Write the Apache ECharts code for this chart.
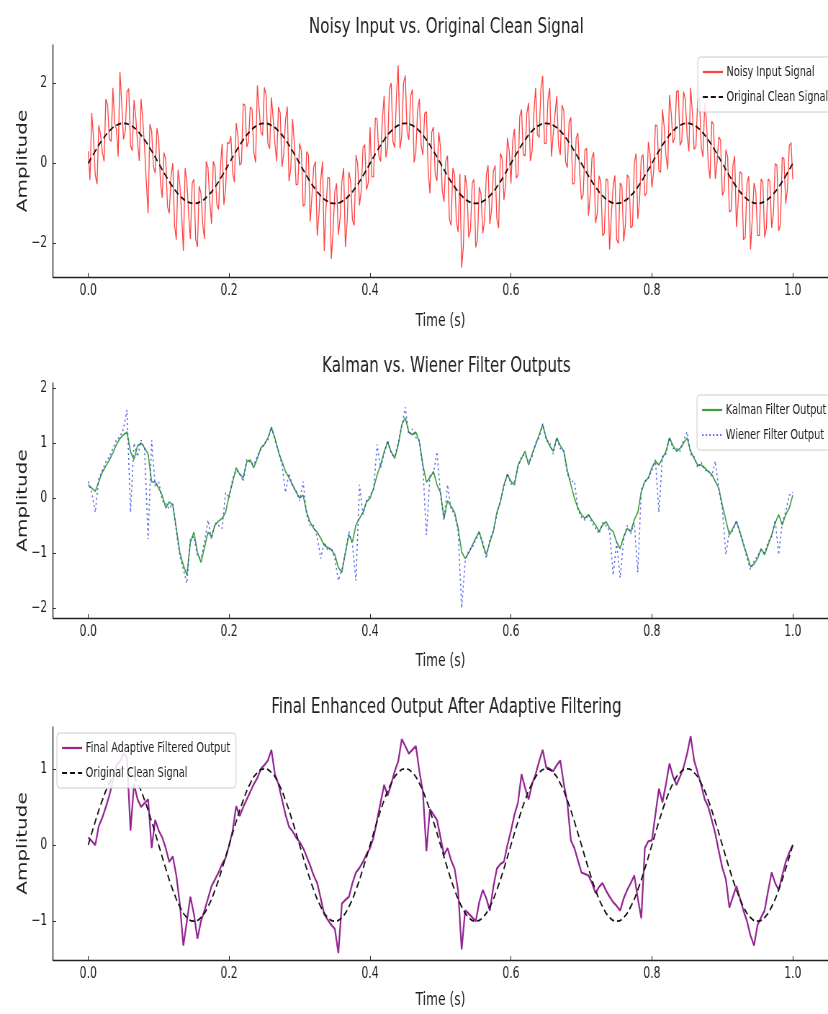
<!DOCTYPE html>
<html>
<head>
<meta charset="utf-8">
<title>Signal filtering</title>
<script src="https://cdn.jsdelivr.net/npm/echarts@6.0.0/dist/echarts.min.js"></script>
<style>
  html, body { margin: 0; padding: 0; overflow: hidden; background: #fff; }
  /* the reference is squeezed sideways, so draw wide and squeeze */
  #chart { width: 1150px; height: 1014px; transform: scaleX(0.72); transform-origin: 0 0; }
</style>
</head>
<body>
<div id="chart"></div>
<script>
const noisyStep = 0.0025
const sampleStep = 0.005
const cleanStep = 0.01
const timeTicks = [0, 0.2, 0.4, 0.6, 0.8, 1.0]
const noisyTicks = [-2, 0, 2]
const filterTicks = [-2, -1, 0, 1, 2]
const finalTicks = [-1, 0, 1]

const cleanSignal = [
  0, 0.309, 0.588, 0.809, 0.951, 1, 0.951, 0.809, 0.588, 0.309,
  0, -0.309, -0.588, -0.809, -0.951, -1, -0.951, -0.809, -0.588, -0.309,
  0, 0.309, 0.588, 0.809, 0.951, 1, 0.951, 0.809, 0.588, 0.309,
  0, -0.309, -0.588, -0.809, -0.951, -1, -0.951, -0.809, -0.588, -0.309,
  0, 0.309, 0.588, 0.809, 0.951, 1, 0.951, 0.809, 0.588, 0.309,
  0, -0.309, -0.588, -0.809, -0.951, -1, -0.951, -0.809, -0.588, -0.309,
  0, 0.309, 0.588, 0.809, 0.951, 1, 0.951, 0.809, 0.588, 0.309,
  0, -0.309, -0.588, -0.809, -0.951, -1, -0.951, -0.809, -0.588, -0.309,
  0, 0.309, 0.588, 0.809, 0.951, 1, 0.951, 0.809, 0.588, 0.309,
  0, -0.309, -0.588, -0.809, -0.951, -1, -0.951, -0.809, -0.588, -0.309,
  0
]

const noisySignal = [
  0.3, -0.42, 1.26, 0.63, -0.29, -0.52, 0.95, 0.72, 0.29, 0.05, 1.61, 1.46, 0.61, 0.55, 1.89, 1.02, 0.85, 0.17, 2.29, 1.5,
  0.6, 0.8, 1.79, 1.87, 0.45, 0.32, 1.59, 1.15, 0.51, 0.06, 1.61, 1.05, 0.39, -0.48, -1.25, 0.98, 0.81, -0.07, -0.24, 0.88,
  0.6, -0.48, -0.86, 0.27, 0.09, -1.08, -1.25, -0.32, 0.01, -1.55, -1.91, -0.16, -0.51, -1.25, -2.19, -0.12, -0.45, -1.27, -1.89, -0.5,
  -0.4, -1.9, -2.09, -0.57, -0.75, -1.52, -1.89, 0.05, -0.11, -0.96, -1.51, 0.05, -0.09, -1.02, -1.15, -0.08, 0.49, -1.03, -0.66, 0.52,
  0.5, 0.68, -0.24, -0.47, 1.01, 0.68, -0.05, 0.02, 1.49, 1.45, 0.41, 0.56, 1.41, 1.35, 0.29, 0.02, 1.95, 1.37, 0.79, 0.7,
  1.9, 1.7, 0.49, 0.37, 1.65, 1.12, 0.49, 0.05, 1.41, 1.26, -0.09, 0.25, 1.09, 1.42, -0.45, -0.12, 1.11, 0.53, -0.54, -0.52,
  0.5, 0.32, -1.06, -1.03, 0.29, 0.22, -1.45, -0.82, -0.09, 0.05, -1.81, -1.26, -0.41, 0.05, -2.19, -1.12, -0.35, -0.37, -2.39, -1.7,
  -0.7, -0.5, -1.79, -1.37, -0.45, -0.12, -2.09, -1.45, -0.21, -0.46, -1.41, -1.55, 0.21, -0.02, -1.05, -0.68, 0.39, 0.47, -0.66, -0.48,
  0.9, -0.32, -0.34, 1.13, 1.11, 0.18, 0.05, 1.12, 1.69, 0.15, 0.41, 1.86, 2.01, 0.55, 0.39, 1.72, 2.45, 0.37, 0.69, 2.0,
  2.2, 0.8, 0.59, 1.67, 1.85, 0.02, 0.29, 1.35, 1.61, 0.46, 0.21, 1.25, 1.29, -0.18, -0.75, 0.78, 0.91, -0.27, -0.44, 0.78,
  0.4, -0.68, -0.96, 0.07, 0.19, -1.38, -1.55, -0.12, -0.29, -1.45, -1.71, -0.26, -2.61, -2.05, -0.29, -0.62, -1.85, -1.67, -0.49, -0.4,
  -2.1, -1.9, -0.59, -0.77, -1.75, -1.42, -0.29, -0.05, -1.51, -1.16, -0.21, -0.05, -1.39, -1.62, 0.25, 0.12, -0.91, -0.53, 0.64, 0.32,
  -0.5, 0.58, 0.86, -0.37, -0.29, 1.18, 1.35, 0.22, 0.19, 1.25, 1.51, 0.06, 0.31, 1.25, 1.89, 0.72, 0.65, 1.87, 2.19, 0.5,
  0.5, 1.6, 1.89, 0.17, 0.75, 1.22, 1.69, 0.45, 0.21, 1.46, 1.31, 0.05, -0.11, 1.02, 1.15, -0.52, -0.49, 0.63, 0.76, -0.22,
  -0.9, -0.78, 0.34, 0.37, -1.31, -0.78, 0.15, 0.28, -1.49, -1.25, -0.31, -0.46, -1.81, -1.75, -0.39, -0.42, -2.15, -1.27, -0.59, -0.3,
  -1.9, -2.0, -0.49, -0.57, -1.95, -1.52, -0.29, -0.35, -1.61, -1.56, -0.01, 0.25, -1.39, -0.92, 0.15, 0.22, -0.81, -0.73, 0.54, 0.22,
  -0.6, -0.22, 0.96, 0.93, -0.19, -0.22, 1.35, 0.92, 0.19, -0.15, 1.71, 1.26, 0.51, 0.65, 1.79, 1.82, 0.45, 0.57, 1.79, 1.6,
  0.7, 0.3, 1.89, 1.27, 0.35, 0.42, 1.59, 1.65, 0.41, 0.16, 1.51, 1.05, -0.01, -0.38, 1.05, 0.98, -0.39, 0.03, 0.66, 0.58,
  -0.8, -0.68, 0.34, 0.17, -1.21, -1.18, -0.05, 0.18, -1.59, -0.95, -0.21, -0.26, -1.91, -1.85, -0.49, -0.32, -2.15, -1.37, -0.49, -0.7,
  -1.8, -1.8, -0.39, -0.47, -1.85, -1.62, -0.39, -0.45, -1.61, -1.26, -0.01, -0.05, -1.69, -1.52, 0.15, 0.12, -1.01, -0.63, 0.44, 0.52,
  -0.4
]

const kalmanOutput = [
  0.24, 0.18, 0.12, 0.3, 0.47, 0.58, 0.69, 0.82, 0.97, 1.08,
  1.15, 1.2, 0.84, 0.7, 0.95, 1.0, 0.91, 0.8, 0.29, 0.29,
  0.18, 0.05, -0.18, -0.07, -0.13, -0.55, -0.99, -1.22, -1.4, -0.8,
  -0.62, -0.99, -1.17, -0.9, -0.62, -0.7, -0.49, -0.42, -0.37, -0.26,
  0.05, 0.29, 0.55, 0.43, 0.37, 0.66, 0.69, 0.55, 0.72, 0.91,
  0.97, 1.09, 1.28, 1.09, 0.84, 0.66, 0.48, 0.37, 0.24, 0.11,
  0, 0.05, -0.26, -0.44, -0.55, -0.62, -0.73, -0.86, -0.9, -0.94,
  -1.03, -1.26, -1.35, -0.99, -0.67, -0.8, -0.49, -0.37, -0.26, -0.07,
  0, 0.18, 0.42, 0.6, 0.84, 1.02, 0.84, 0.72, 0.97, 1.33,
  1.46, 1.2, 1.15, 1.2, 1.02, 0.6, 0.29, 0.37, 0.48, 0.24,
  0.1, -0.37, -0.05, -0.15, -0.26, -0.55, -0.98, -1.1, -1.0, -0.86,
  -0.73, -0.61, -0.85, -1.03, -0.8, -0.61, -0.26, -0.07, 0.24, 0.43,
  0.3, 0.24, 0.6, 0.72, 0.85, 0.6, 0.8, 0.97, 1.15, 1.33,
  1.09, 0.95, 0.85, 1.09, 0.95, 0.85, 0.5, 0.24, 0, -0.18,
  -0.3, -0.37, -0.3, -0.4, -0.49, -0.61, -0.49, -0.43, -0.55, -0.61,
  -0.8, -0.92, -0.7, -0.55, -0.61, -0.4, -0.26, 0.11, 0.3, 0.37,
  0.55, 0.67, 0.6, 0.72, 0.85, 1.09, 0.95, 0.85, 0.9, 1.0,
  1.09, 0.85, 0.72, 0.6, 0.6, 0.55, 0.48, 0.43, 0.3, 0.18,
  -0.13, -0.4, -0.67, -0.55, -0.43, -0.61, -0.85, -1.03, -1.25, -1.2,
  -1.1, -0.92, -1.03, -0.85, -0.67, -0.45, -0.3, -0.49, -0.3, -0.18,
  0.05
]

const wienerOutput = [
  0.3, 0.1, -0.26, 0.35, 0.5, 0.66, 0.75, 0.9, 1.05, 1.12,
  1.25, 1.6, -0.26, 1.0, 0.75, 1.05, 0.9, -0.75, 1.05, 0.2,
  0.3, -0.05, -0.1, -0.2, -0.1, -0.6, -1.05, -1.3, -1.55, -0.75,
  -0.7, -1.05, -1.1, -0.8, -0.4, -0.75, -0.45, -0.5, -0.55, 0.1,
  0, 0.35, 0.5, 0.45, 0.3, 0.7, 0.65, 0.6, 0.75, 0.88,
  1.0, 1.05, 1.3, 1.05, 0.85, 0.6, 0.1, 0.45, 0.2, 0.15,
  -0.05, 0.3, -0.3, -0.5, -0.5, -0.7, -1.1, -0.8, -0.95, -0.9,
  -1.1, -1.5, -1.3, -1.0, -0.6, -0.85, -1.5, 0.24, -0.3, -0.05,
  0.05, 0.15, 0.97, 0.55, 0.8, 1.05, 0.8, 0.75, 1.0, 1.3,
  1.65, 1.15, 1.25, 1.1, 1.05, 0.55, -0.67, 0.4, 0.45, 0.84,
  0.05, -0.4, 0.24, -0.2, -0.3, -0.6, -2.0, -1.15, -0.95, -0.9,
  -0.75, -0.65, -0.8, -1.1, -0.75, -0.6, -0.3, -0.05, 0.2, 0.45,
  0.25, 0.3, 0.55, 0.75, 0.8, 0.65, 0.75, 1.0, 1.1, 1.35,
  1.05, 1.0, 0.8, 1.1, 0.9, 0.85, 0.45, 0.3, 0.3, -0.2,
  -0.35, -0.4, -0.3, -0.45, -0.55, -0.65, -0.45, -0.5, -0.6, -1.4,
  -0.8, -1.45, -0.75, -0.5, -0.65, -0.45, -1.35, 0.15, 0.3, 0.35,
  0.5, 0.7, -0.26, 0.75, 0.8, 1.1, 0.9, 0.9, 0.85, 1.05,
  1.2, 0.8, 0.75, 0.55, 0.65, 0.5, 0.5, 0.4, 0.67, 0.15,
  -0.2, -1.03, -0.6, -0.6, -0.4, -0.65, -0.8, -1.1, -1.3, -1.15,
  -1.05, -0.95, -1.0, -0.8, -0.7, -0.4, -1.03, -0.45, -0.25, 0.05,
  0.1
]

const adaptiveOutput = [
  0.1, 0.05, 0, 0.25, 0.36, 0.5, 0.65, 0.85, 1.05, 1.1,
  1.2, 1.15, 0.19, 0.8, 0.6, 0.5, 0.55, 0.6, -0.04, 0.33,
  0.19, 0.1, -0.04, -0.22, -0.15, -0.4, -0.77, -1.32, -1.0, -0.68,
  -0.91, -1.23, -1.0, -0.86, -0.7, -0.54, -0.45, -0.36, -0.25, -0.17,
  0, 0.19, 0.51, 0.38, 0.5, 0.6, 0.7, 0.8, 0.88, 1.0,
  1.05, 1.11, 1.25, 0.93, 0.8, 0.6, 0.4, 0.24, 0.18, 0.1,
  0.04, -0.04, -0.15, -0.27, -0.4, -0.5, -0.7, -0.91, -0.98, -1.05,
  -1.1, -1.42, -0.77, -0.72, -0.68, -0.5, -0.36, -0.3, -0.22, -0.12,
  -0.04, 0.1, 0.33, 0.56, 0.79, 0.65, 0.8, 0.97, 1.1, 1.39,
  1.3, 1.2, 1.25, 1.3, 0.97, 0.7, -0.08, 0.47, 0.4, 0.33,
  0.1, -0.13, -0.04, -0.2, -0.31, -0.6, -1.37, -0.86, -0.9, -0.95,
  -1.0, -0.75, -0.59, -0.7, -0.86, -0.55, -0.31, -0.25, -0.22, 0,
  0.19, 0.4, 0.56, 0.93, 0.75, 0.6, 0.8, 0.93, 1.1, 1.25,
  1.02, 1.0, 0.97, 1.05, 1.11, 0.8, 0.56, 0.06, -0.04, -0.2,
  -0.36, -0.38, -0.4, -0.5, -0.63, -0.55, -0.5, -0.6, -0.68, -0.75,
  -0.8, -0.86, -0.7, -0.59, -0.5, -0.4, -0.7, -0.96, -0.04, 0.05,
  0.06, 0.4, 0.74, 0.56, 0.8, 1.07, 0.9, 0.79, 0.9, 1.02,
  1.2, 1.43, 1.11, 0.95, 0.79, 0.6, 0.5, 0.33, 0.15, -0.08,
  -0.3, -0.45, -0.82, -0.68, -0.54, -0.7, -0.86, -1.0, -1.19, -1.32,
  -1.05, -0.95, -0.86, -0.6, -0.36, -0.5, -0.59, -0.4, -0.22, -0.1,
  0
]

const font = "'DejaVu Sans', sans-serif"
const ink = '#222'

function toPairs (values, step) {
  return values.map((v, i) => [+(i * step).toFixed(4), v])
}

function minusSign (v) {
  return v < 0 ? '\u2212' + Math.abs(v) : String(v)
}

function xAxisFor (gridIndex, nameGap) {
  return {
    type: 'value',
    gridIndex: gridIndex,
    min: -0.05,
    max: 1.05,
    name: 'Time (s)',
    nameLocation: 'middle',
    nameGap: nameGap,
    nameTextStyle: { fontFamily: font, fontSize: 17, color: ink },
    axisLine: { show: true, onZero: false, lineStyle: { color: ink, width: 1.4 } },
    axisTick: { show: true, inside: true, length: 4, customValues: timeTicks, lineStyle: { color: ink } },
    axisLabel: { customValues: timeTicks, formatter: v => v.toFixed(1), fontFamily: font, fontSize: 15, color: ink, margin: 7 },
    splitLine: { show: false }
  }
}

function yAxisFor (gridIndex, min, max, ticks) {
  return {
    type: 'value',
    gridIndex: gridIndex,
    min: min,
    max: max,
    name: 'Amplitude',
    nameLocation: 'middle',
    nameGap: 32,
    nameMoveOverlap: false,
    nameRotate: 90,
    nameTextStyle: { fontFamily: font, fontSize: 20, color: ink },
    axisLine: { show: true, onZero: false, lineStyle: { color: ink, width: 1.4 } },
    axisTick: { show: true, inside: true, length: 4, customValues: ticks, lineStyle: { color: ink } },
    axisLabel: { customValues: ticks, formatter: minusSign, fontFamily: font, fontSize: 15, color: ink, margin: 8 },
    splitLine: { show: false }
  }
}

function legendAt (left, top, names) {
  return {
    left: left,
    top: top,
    orient: 'vertical',
    data: names,
    itemWidth: 28,
    itemHeight: 14,
    itemGap: 11,
    padding: [8, 8, 8, 6],
    backgroundColor: 'rgba(255,255,255,0.85)',
    borderColor: '#cccccc',
    borderWidth: 1,
    borderRadius: 4,
    selectedMode: false,
    itemStyle: { opacity: 0 },
    lineStyle: { width: 2.2 },
    textStyle: { fontFamily: font, fontSize: 13.5, color: ink }
  }
}

function titleAt (text, top) {
  return {
    text: text,
    left: 620,
    top: top,
    textAlign: 'center',
    padding: 0,
    textStyle: { fontFamily: font, fontSize: 21, fontWeight: 'normal', color: ink }
  }
}

let option = {
  animation: false,
  backgroundColor: '#fff',
  title: [
    titleAt('Noisy Input vs. Original Clean Signal', 17),
    titleAt('Kalman vs. Wiener Filter Outputs', 356),
    titleAt('Final Enhanced Output After Adaptive Filtering', 697)
  ],
  legend: [
    legendAt(969, 57, ['Noisy Input Signal', 'Original Clean Signal']),
    legendAt(968, 395, ['Kalman Filter Output', 'Wiener Filter Output']),
    legendAt(79, 733, ['Final Adaptive Filtered Output', 'Original Clean Signal'])
  ],
  grid: [
    { left: 73.6, top: 45, width: 1094, height: 232 },
    { left: 73.6, top: 383, width: 1094, height: 235 },
    { left: 73.6, top: 727, width: 1094, height: 233 }
  ],
  xAxis: [xAxisFor(0, 36), xAxisFor(1, 35), xAxisFor(2, 32)],
  yAxis: [
    yAxisFor(0, -2.84, 2.96, noisyTicks),
    yAxisFor(1, -2.18, 2.09, filterTicks),
    yAxisFor(2, -1.51, 1.55, finalTicks)
  ],
  series: [
    {
      name: 'Noisy Input Signal',
      type: 'line',
      xAxisIndex: 0,
      yAxisIndex: 0,
      symbol: 'none',
      data: toPairs(noisySignal, noisyStep),
      lineStyle: { color: 'rgba(255,0,0,0.75)', width: 1.3 },
      itemStyle: { color: 'rgba(255,0,0,0.75)' }
    },
    {
      name: 'Original Clean Signal',
      type: 'line',
      xAxisIndex: 0,
      yAxisIndex: 0,
      symbol: 'none',
      smooth: true,
      data: toPairs(cleanSignal, cleanStep),
      lineStyle: { color: '#111', width: 1.8, type: [7, 4] },
      itemStyle: { color: '#111' }
    },
    {
      name: 'Kalman Filter Output',
      type: 'line',
      xAxisIndex: 1,
      yAxisIndex: 1,
      symbol: 'none',
      data: toPairs(kalmanOutput, sampleStep),
      lineStyle: { color: 'rgba(0,128,0,0.75)', width: 1.6 },
      itemStyle: { color: 'rgba(0,128,0,0.75)' }
    },
    {
      name: 'Wiener Filter Output',
      type: 'line',
      xAxisIndex: 1,
      yAxisIndex: 1,
      symbol: 'none',
      data: toPairs(wienerOutput, sampleStep),
      lineStyle: { color: 'rgba(40,60,230,0.75)', width: 1.6, type: [2, 3] },
      itemStyle: { color: 'rgba(40,60,230,0.75)' }
    },
    {
      name: 'Final Adaptive Filtered Output',
      type: 'line',
      xAxisIndex: 2,
      yAxisIndex: 2,
      symbol: 'none',
      data: toPairs(adaptiveOutput, sampleStep),
      lineStyle: { color: 'rgba(128,0,128,0.85)', width: 2.2 },
      itemStyle: { color: 'rgba(128,0,128,0.85)' }
    },
    {
      name: 'Original Clean Signal',
      type: 'line',
      xAxisIndex: 2,
      yAxisIndex: 2,
      symbol: 'none',
      smooth: true,
      data: toPairs(cleanSignal, cleanStep),
      lineStyle: { color: '#111', width: 1.8, type: [7, 4] },
      itemStyle: { color: '#111' }
    }
  ]
}

let chart = echarts.init(document.getElementById('chart'))
chart.setOption(option)
</script>
</body>
</html>
